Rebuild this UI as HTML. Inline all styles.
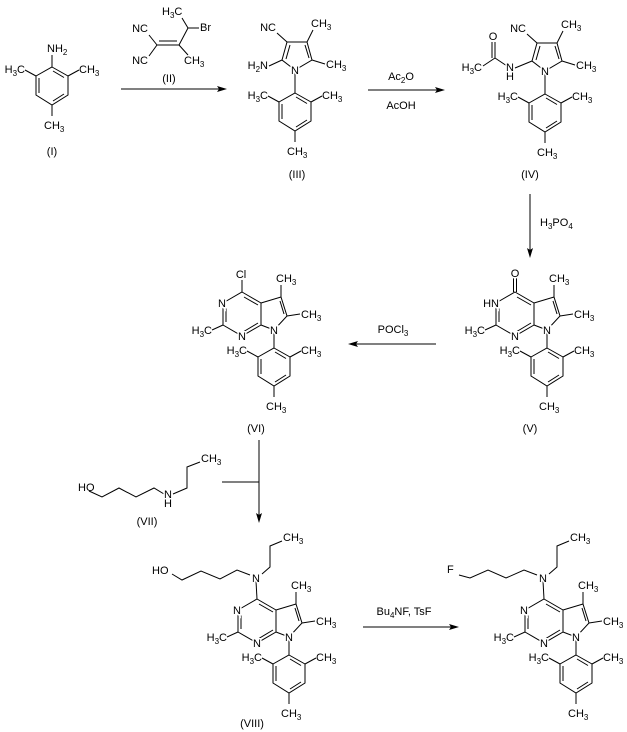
<!DOCTYPE html>
<html><head><meta charset="utf-8"><style>
html,body{margin:0;padding:0;background:#fff;}
svg{display:block;font-family:"Liberation Sans",Arial,sans-serif;font-size:11px;}
line,path,polyline{stroke:#000;stroke-width:1;fill:none;}
.t{paint-order:stroke;stroke:#fff;stroke-width:3px;fill:#000;}
.s{font-size:8px;}
.ah{fill:#000;stroke:none;}
</style></head><body>
<svg width="627" height="732" viewBox="0 0 627 732" xmlns="http://www.w3.org/2000/svg">

<!-- Mesityl template used in translate groups -->
<!-- Compound I -->
<g transform="translate(52,67)">
<path d="M0,0 L16,9 L16,28 L0,38 L-16,28 L-16,9 Z"/>
<line x1="1" y1="4" x2="12" y2="10.5"/><line x1="12" y1="27" x2="1" y2="34"/><line x1="-13" y1="26" x2="-13" y2="11"/>
<line x1="-16" y1="9" x2="-27" y2="3"/><line x1="16" y1="9" x2="27" y2="3"/><line x1="0" y1="38" x2="0" y2="49"/><line x1="0" y1="0" x2="0" y2="-12"/>
<text x="-27" y="6" text-anchor="end">H<tspan class="s" dy="3">3</tspan><tspan dy="-3">C</tspan></text>
<text x="27" y="6">CH<tspan class="s" dy="3">3</tspan></text>
<text x="-8" y="62">CH<tspan class="s" dy="3">3</tspan></text>
<text x="-5" y="-15">NH<tspan class="s" dy="3">2</tspan></text>
</g>
<text x="52" y="155" text-anchor="middle">(I)</text>

<!-- Compound II -->
<line x1="157" y1="45" x2="179" y2="45"/><line x1="159" y1="41" x2="177" y2="41"/>
<line x1="157" y1="45" x2="149" y2="35"/><line x1="157" y1="45" x2="149" y2="56"/>
<line x1="179" y1="45" x2="188" y2="28"/><line x1="188" y1="28" x2="182" y2="18"/><line x1="188" y1="28" x2="199" y2="28"/>
<line x1="179" y1="45" x2="188" y2="55"/>
<text x="148" y="32" text-anchor="end">NC</text>
<text x="148" y="64" text-anchor="end">NC</text>
<text x="162" y="15">H<tspan class="s" dy="3">3</tspan><tspan dy="-3">C</tspan></text>
<text x="200" y="31">Br</text>
<text x="184" y="64">CH<tspan class="s" dy="3">3</tspan></text>
<text x="169" y="82" text-anchor="middle">(II)</text>

<!-- Arrow 1 -->
<line x1="121" y1="89" x2="222" y2="89"/><path class="ah" d="M227,89 L217,86 L219,89 L217,92 Z"/>

<!-- Compound III -->
<g transform="translate(295,70)">
<path d="M0,0 L-13,-10 L-8,-28 L12,-28 L17,-10 Z"/>
<line x1="-9" y1="-11" x2="-5" y2="-25"/><line x1="10" y1="-25" x2="14" y2="-12"/>
<line x1="-8" y1="-28" x2="-18" y2="-37"/><line x1="12" y1="-28" x2="18" y2="-40"/><line x1="17" y1="-10" x2="30" y2="-6"/><line x1="-13" y1="-10" x2="-26" y2="-4"/>
<line x1="0" y1="0" x2="0" y2="23"/>
<text x="-19" y="-39" text-anchor="end">NC</text>
<text x="16" y="-43">CH<tspan class="s" dy="3">3</tspan></text>
<text x="31" y="-2">CH<tspan class="s" dy="3">3</tspan></text>
<text x="-27" y="-1" text-anchor="end">H<tspan class="s" dy="3">2</tspan><tspan dy="-3">N</tspan></text>
<text class="t" x="0" y="4" text-anchor="middle">N</text>
<g transform="translate(0,23)">
<path d="M0,0 L16,9 L16,28 L0,38 L-16,28 L-16,9 Z"/>
<line x1="1" y1="4" x2="12" y2="10.5"/><line x1="12" y1="27" x2="1" y2="34"/><line x1="-13" y1="26" x2="-13" y2="11"/>
<line x1="-16" y1="9" x2="-27" y2="3"/><line x1="16" y1="9" x2="27" y2="3"/><line x1="0" y1="38" x2="0" y2="49"/>
<text x="-27" y="6" text-anchor="end">H<tspan class="s" dy="3">3</tspan><tspan dy="-3">C</tspan></text>
<text x="27" y="6">CH<tspan class="s" dy="3">3</tspan></text>
<text x="-8" y="62">CH<tspan class="s" dy="3">3</tspan></text>
</g>
</g>
<text x="297" y="178" text-anchor="middle">(III)</text>

<!-- Arrow 2 -->
<line x1="368" y1="90" x2="440" y2="90"/><path class="ah" d="M445,90 L435,87 L437,90 L435,93 Z"/>
<text x="401" y="80" text-anchor="middle">Ac<tspan class="s" dy="3">2</tspan><tspan dy="-3">O</tspan></text>
<text x="401" y="109" text-anchor="middle">AcOH</text>

<!-- Compound IV -->
<g transform="translate(545,71)">
<path d="M0,0 L-13,-10 L-8,-28 L12,-28 L17,-10 Z"/>
<line x1="-9" y1="-11" x2="-5" y2="-25"/><line x1="10" y1="-25" x2="14" y2="-12"/>
<line x1="-8" y1="-28" x2="-18" y2="-37"/><line x1="12" y1="-28" x2="18" y2="-40"/><line x1="17" y1="-10" x2="30" y2="-6"/><line x1="-13" y1="-10" x2="-30" y2="-3"/>
<line x1="-38" y1="-5" x2="-50" y2="-13"/><line x1="-50" y1="-13" x2="-50" y2="-29"/><line x1="-53" y1="-13" x2="-53" y2="-29"/><line x1="-50" y1="-13" x2="-62" y2="-5"/>
<line x1="0" y1="0" x2="0" y2="23"/>
<text x="-19" y="-39" text-anchor="end">NC</text>
<text x="16" y="-43">CH<tspan class="s" dy="3">3</tspan></text>
<text x="31" y="-2">CH<tspan class="s" dy="3">3</tspan></text>
<text class="t" x="-35" y="0" text-anchor="middle">N</text>
<text x="-35" y="9" text-anchor="middle">H</text>
<text class="t" x="-52" y="-31" text-anchor="middle">O</text>
<text x="-63" y="0" text-anchor="end">H<tspan class="s" dy="3">3</tspan><tspan dy="-3">C</tspan></text>
<text class="t" x="0" y="4" text-anchor="middle">N</text>
<g transform="translate(0,23)">
<path d="M0,0 L16,9 L16,28 L0,38 L-16,28 L-16,9 Z"/>
<line x1="1" y1="4" x2="12" y2="10.5"/><line x1="12" y1="27" x2="1" y2="34"/><line x1="-13" y1="26" x2="-13" y2="11"/>
<line x1="-16" y1="9" x2="-27" y2="3"/><line x1="16" y1="9" x2="27" y2="3"/><line x1="0" y1="38" x2="0" y2="49"/>
<text x="-27" y="6" text-anchor="end">H<tspan class="s" dy="3">3</tspan><tspan dy="-3">C</tspan></text>
<text x="27" y="6">CH<tspan class="s" dy="3">3</tspan></text>
<text x="-8" y="62">CH<tspan class="s" dy="3">3</tspan></text>
</g>
</g>
<text x="530" y="178" text-anchor="middle">(IV)</text>

<!-- Arrow 3 -->
<line x1="530" y1="194" x2="530" y2="253"/><path class="ah" d="M530,258 L527,248 L530,250 L533,248 Z"/>
<text x="540" y="226">H<tspan class="s" dy="3">3</tspan><tspan dy="-3">PO</tspan><tspan class="s" dy="3">4</tspan></text>

<!-- Core V -->
<g transform="translate(545,330)">
<path d="M-30,-38 L-11,-27 L-11,-5 L-30,6 L-49,-5 L-49,-27 Z"/>
<path d="M-11,-27 L9,-33 L15,-14 L2,0 L-11,-5"/>
<line x1="-28" y1="-33" x2="-14" y2="-25"/><line x1="-14" y1="-7" x2="-29" y2="2"/><line x1="-46" y1="-8" x2="-46" y2="-24"/><line x1="8" y1="-29" x2="12" y2="-16"/>
<line x1="9" y1="-33" x2="9" y2="-45"/><line x1="15" y1="-14" x2="28" y2="-16"/><line x1="-49" y1="-5" x2="-60" y2="0"/><line x1="2" y1="0" x2="2" y2="18"/>
<line x1="-31.5" y1="-38" x2="-31.5" y2="-52"/><line x1="-28.5" y1="-38" x2="-28.5" y2="-52"/>
<text x="4" y="-48">CH<tspan class="s" dy="3">3</tspan></text>
<text x="29" y="-12">CH<tspan class="s" dy="3">3</tspan></text>
<text x="-60" y="4" text-anchor="end">H<tspan class="s" dy="3">3</tspan><tspan dy="-3">C</tspan></text>
<text class="t" x="-30" y="10" text-anchor="middle">N</text>
<text class="t" x="-46" y="-23" text-anchor="end">HN</text>
<text class="t" x="2" y="4" text-anchor="middle">N</text>
<text class="t" x="-30" y="-53" text-anchor="middle">O</text>
<g transform="translate(2,18)">
<path d="M0,0 L16,9 L16,28 L0,38 L-16,28 L-16,9 Z"/>
<line x1="1" y1="4" x2="12" y2="10.5"/><line x1="12" y1="27" x2="1" y2="34"/><line x1="-13" y1="26" x2="-13" y2="11"/>
<line x1="-16" y1="9" x2="-27" y2="3"/><line x1="16" y1="9" x2="27" y2="3"/><line x1="0" y1="38" x2="0" y2="49"/>
<text x="-27" y="6" text-anchor="end">H<tspan class="s" dy="3">3</tspan><tspan dy="-3">C</tspan></text>
<text x="27" y="6">CH<tspan class="s" dy="3">3</tspan></text>
<text x="-8" y="62">CH<tspan class="s" dy="3">3</tspan></text>
</g>
</g>
<text x="530" y="432" text-anchor="middle">(V)</text>

<!-- Arrow POCl3 -->
<line x1="436" y1="344" x2="353" y2="344"/><path class="ah" d="M348,344 L358,341 L356,344 L358,347 Z"/>
<text x="393" y="333" text-anchor="middle">POCl<tspan class="s" dy="3">3</tspan></text>

<!-- Core VI -->
<g transform="translate(272,330)">
<path d="M-30,-38 L-11,-27 L-11,-5 L-30,6 L-49,-5 L-49,-27 Z"/>
<path d="M-11,-27 L9,-33 L15,-14 L2,0 L-11,-5"/>
<line x1="-28" y1="-33" x2="-14" y2="-25"/><line x1="-14" y1="-7" x2="-29" y2="2"/><line x1="-46" y1="-8" x2="-46" y2="-24"/><line x1="8" y1="-29" x2="12" y2="-16"/>
<line x1="9" y1="-33" x2="9" y2="-45"/><line x1="15" y1="-14" x2="28" y2="-16"/><line x1="-49" y1="-5" x2="-60" y2="0"/><line x1="2" y1="0" x2="2" y2="18"/>
<line x1="-30" y1="-38" x2="-30" y2="-50"/>
<text x="4" y="-48">CH<tspan class="s" dy="3">3</tspan></text>
<text x="29" y="-12">CH<tspan class="s" dy="3">3</tspan></text>
<text x="-60" y="4" text-anchor="end">H<tspan class="s" dy="3">3</tspan><tspan dy="-3">C</tspan></text>
<text class="t" x="-30" y="10" text-anchor="middle">N</text>
<text class="t" x="-50" y="-23" text-anchor="middle">N</text>
<text class="t" x="2" y="4" text-anchor="middle">N</text>
<text class="t" x="-31" y="-52" text-anchor="middle">Cl</text>
<g transform="translate(2,18)">
<path d="M0,0 L16,9 L16,28 L0,38 L-16,28 L-16,9 Z"/>
<line x1="1" y1="4" x2="12" y2="10.5"/><line x1="12" y1="27" x2="1" y2="34"/><line x1="-13" y1="26" x2="-13" y2="11"/>
<line x1="-16" y1="9" x2="-27" y2="3"/><line x1="16" y1="9" x2="27" y2="3"/><line x1="0" y1="38" x2="0" y2="49"/>
<text x="-27" y="6" text-anchor="end">H<tspan class="s" dy="3">3</tspan><tspan dy="-3">C</tspan></text>
<text x="27" y="6">CH<tspan class="s" dy="3">3</tspan></text>
<text x="-8" y="62">CH<tspan class="s" dy="3">3</tspan></text>
</g>
</g>
<text x="256" y="432" text-anchor="middle">(VI)</text>

<!-- Arrow VI -> VIII with VII -->
<line x1="259" y1="440" x2="259" y2="518"/><path class="ah" d="M259,523 L256,513 L259,515 L262,513 Z"/>
<line x1="222" y1="482" x2="259" y2="482"/>

<!-- Compound VII -->
<polyline points="89,491 102,497 119,488 136,497 154,488 164,494"/>
<polyline points="173,494 187,488 187,467 200,462"/>
<text x="78" y="491">HO</text>
<text class="t" x="168" y="498" text-anchor="middle">N</text>
<text x="168" y="507" text-anchor="middle">H</text>
<text x="201" y="462">CH<tspan class="s" dy="3">3</tspan></text>
<text x="147" y="525" text-anchor="middle">(VII)</text>

<!-- Compound VIII -->
<polyline points="172,574 182,580 201,571 220,579 237,570 250,575"/>
<polyline points="262,574 270,567 270,546 282,541"/>
<text x="152" y="574">HO</text>
<text x="283" y="541">CH<tspan class="s" dy="3">3</tspan></text>
<g transform="translate(287,637)">
<path d="M-30,-38 L-11,-27 L-11,-5 L-30,6 L-49,-5 L-49,-27 Z"/>
<path d="M-11,-27 L9,-33 L15,-14 L2,0 L-11,-5"/>
<line x1="-28" y1="-33" x2="-14" y2="-25"/><line x1="-14" y1="-7" x2="-29" y2="2"/><line x1="-46" y1="-8" x2="-46" y2="-24"/><line x1="8" y1="-29" x2="12" y2="-16"/>
<line x1="9" y1="-33" x2="9" y2="-45"/><line x1="15" y1="-14" x2="28" y2="-16"/><line x1="-49" y1="-5" x2="-60" y2="0"/><line x1="2" y1="0" x2="2" y2="18"/>
<line x1="-30" y1="-38" x2="-31" y2="-56"/>
<text x="4" y="-48">CH<tspan class="s" dy="3">3</tspan></text>
<text x="29" y="-12">CH<tspan class="s" dy="3">3</tspan></text>
<text x="-60" y="4" text-anchor="end">H<tspan class="s" dy="3">3</tspan><tspan dy="-3">C</tspan></text>
<text class="t" x="-30" y="10" text-anchor="middle">N</text>
<text class="t" x="-50" y="-23" text-anchor="middle">N</text>
<text class="t" x="2" y="4" text-anchor="middle">N</text>
<text class="t" x="-31" y="-55" text-anchor="middle">N</text>
<g transform="translate(2,18)">
<path d="M0,0 L16,9 L16,28 L0,38 L-16,28 L-16,9 Z"/>
<line x1="1" y1="4" x2="12" y2="10.5"/><line x1="12" y1="27" x2="1" y2="34"/><line x1="-13" y1="26" x2="-13" y2="11"/>
<line x1="-16" y1="9" x2="-27" y2="3"/><line x1="16" y1="9" x2="27" y2="3"/><line x1="0" y1="38" x2="0" y2="49"/>
<text x="-27" y="6" text-anchor="end">H<tspan class="s" dy="3">3</tspan><tspan dy="-3">C</tspan></text>
<text x="27" y="6">CH<tspan class="s" dy="3">3</tspan></text>
<text x="-8" y="62">CH<tspan class="s" dy="3">3</tspan></text>
</g>
</g>
<text x="252" y="727" text-anchor="middle">(VIII)</text>

<!-- Arrow 4 -->
<line x1="363" y1="627" x2="454" y2="627"/><path class="ah" d="M459,627 L449,624 L451,627 L449,630 Z"/>
<text x="404" y="615" text-anchor="middle">Bu<tspan class="s" dy="3">4</tspan><tspan dy="-3">NF, TsF</tspan></text>

<!-- Final compound -->
<polyline points="459,575 470,578 488,570 506,578 524,570 537,575"/>
<polyline points="549,574 557,567 557,546 569,541"/>
<text x="447" y="573">F</text>
<text x="570" y="541">CH<tspan class="s" dy="3">3</tspan></text>
<g transform="translate(574,637)">
<path d="M-30,-38 L-11,-27 L-11,-5 L-30,6 L-49,-5 L-49,-27 Z"/>
<path d="M-11,-27 L9,-33 L15,-14 L2,0 L-11,-5"/>
<line x1="-28" y1="-33" x2="-14" y2="-25"/><line x1="-14" y1="-7" x2="-29" y2="2"/><line x1="-46" y1="-8" x2="-46" y2="-24"/><line x1="8" y1="-29" x2="12" y2="-16"/>
<line x1="9" y1="-33" x2="9" y2="-45"/><line x1="15" y1="-14" x2="28" y2="-16"/><line x1="-49" y1="-5" x2="-60" y2="0"/><line x1="2" y1="0" x2="2" y2="18"/>
<line x1="-30" y1="-38" x2="-31" y2="-56"/>
<text x="4" y="-48">CH<tspan class="s" dy="3">3</tspan></text>
<text x="29" y="-12">CH<tspan class="s" dy="3">3</tspan></text>
<text x="-60" y="4" text-anchor="end">H<tspan class="s" dy="3">3</tspan><tspan dy="-3">C</tspan></text>
<text class="t" x="-30" y="10" text-anchor="middle">N</text>
<text class="t" x="-50" y="-23" text-anchor="middle">N</text>
<text class="t" x="2" y="4" text-anchor="middle">N</text>
<text class="t" x="-31" y="-55" text-anchor="middle">N</text>
<g transform="translate(2,18)">
<path d="M0,0 L16,9 L16,28 L0,38 L-16,28 L-16,9 Z"/>
<line x1="1" y1="4" x2="12" y2="10.5"/><line x1="12" y1="27" x2="1" y2="34"/><line x1="-13" y1="26" x2="-13" y2="11"/>
<line x1="-16" y1="9" x2="-27" y2="3"/><line x1="16" y1="9" x2="27" y2="3"/><line x1="0" y1="38" x2="0" y2="49"/>
<text x="-27" y="6" text-anchor="end">H<tspan class="s" dy="3">3</tspan><tspan dy="-3">C</tspan></text>
<text x="27" y="6">CH<tspan class="s" dy="3">3</tspan></text>
<text x="-8" y="62">CH<tspan class="s" dy="3">3</tspan></text>
</g>
</g>
</svg>
</body></html>
